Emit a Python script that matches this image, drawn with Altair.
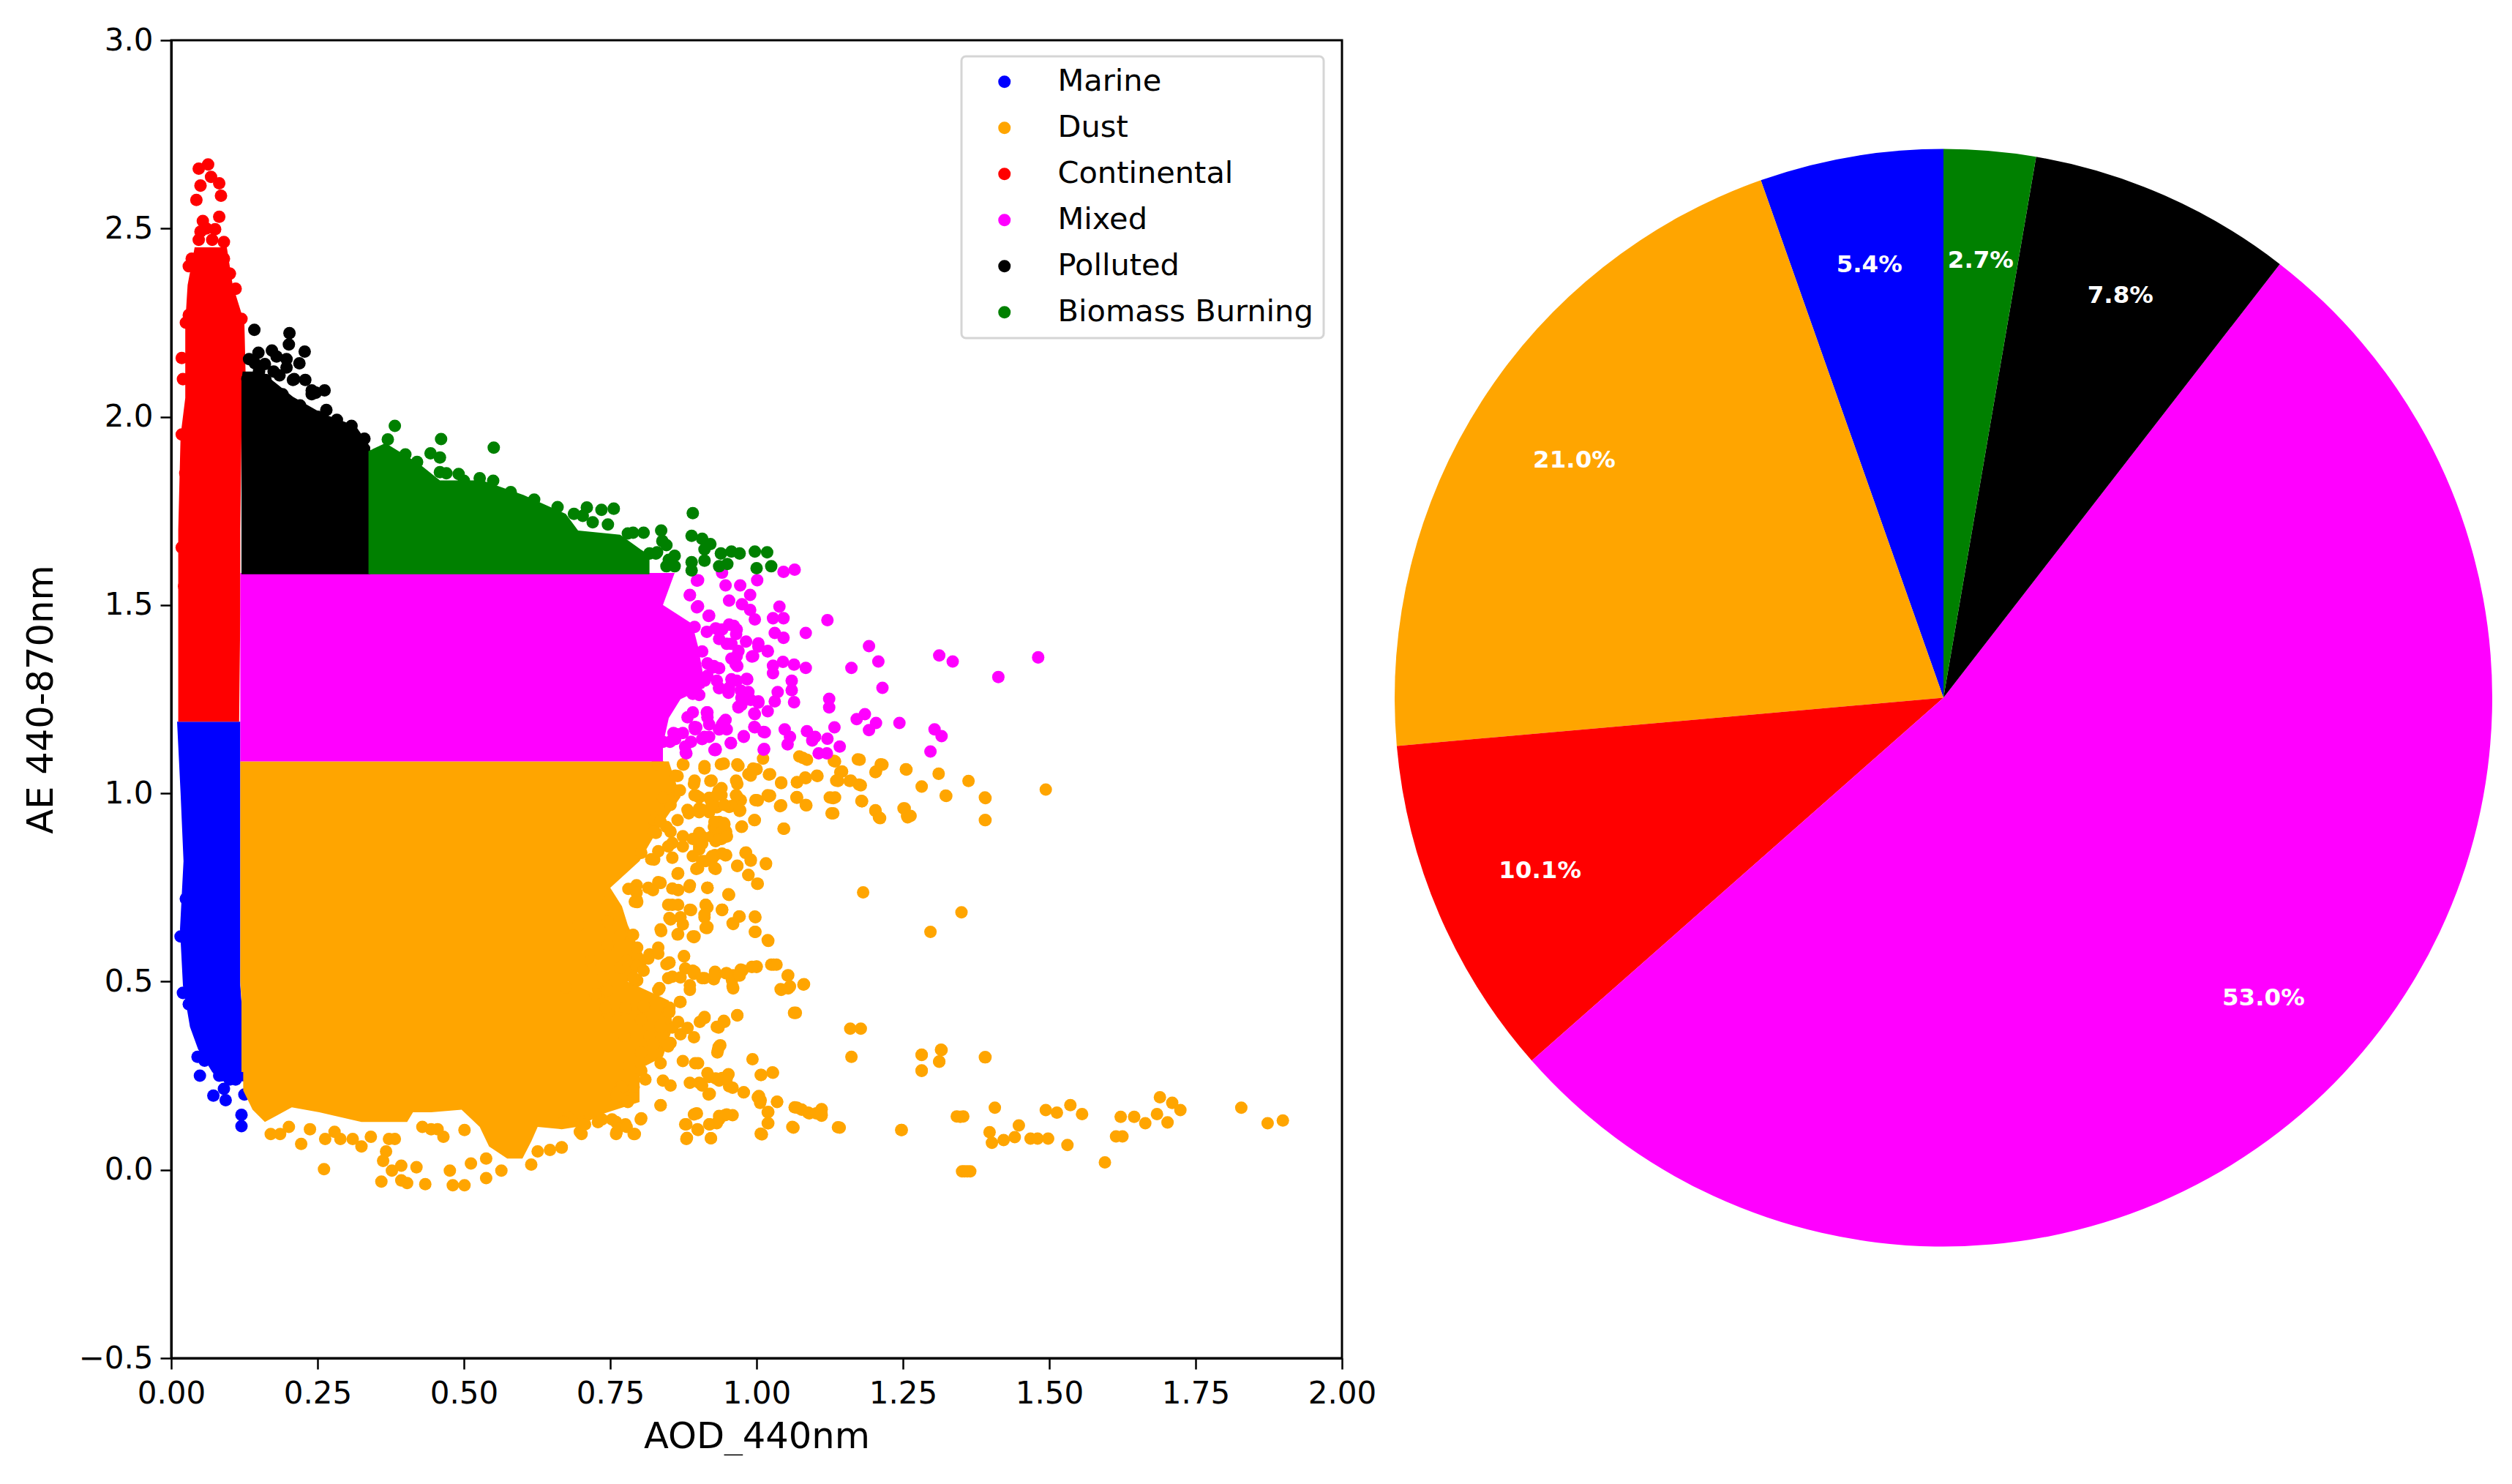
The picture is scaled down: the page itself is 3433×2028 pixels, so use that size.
import altair as alt
import pandas as pd

categories = ["Marine", "Dust", "Continental", "Mixed", "Polluted", "Biomass Burning"]
colors = ["#0000ff", "#ffa500", "#ff0000", "#ff00ff", "#000000", "#008000"]
pie_values = [5.4, 21.0, 10.1, 53.0, 7.8, 2.7]
pie_labels = ["5.4%", "21.0%", "10.1%", "53.0%", "7.8%", "2.7%"]

# dense cores: envelopes (y, left x, right x)
marine_core_y = [1.19, 1.0, 0.82, 0.64, 0.49, 0.38, 0.32, 0.26, 0.235]
marine_core_x1 = [0.010, 0.016, 0.021, 0.015, 0.020, 0.032, 0.046, 0.070, 0.085]
marine_core_x2 = [0.118, 0.118, 0.118, 0.118, 0.118, 0.123, 0.128, 0.130, 0.130]

dust_core_y = [1.085, 0.99, 0.90, 0.82, 0.749, 0.70, 0.65, 0.60, 0.55, 0.50, 0.45, 0.38, 0.30, 0.26]
dust_core_x1 = [0.118, 0.118, 0.118, 0.118, 0.118, 0.118, 0.118, 0.118, 0.118, 0.118, 0.120, 0.120, 0.120, 0.120]
dust_core_x2 = [0.850, 0.870, 0.830, 0.800, 0.750, 0.770, 0.780, 0.795, 0.815, 0.780, 0.850, 0.857, 0.840, 0.790]

dust_low_x = [0.123, 0.139, 0.160, 0.206, 0.253, 0.325, 0.362, 0.403, 0.413, 0.444, 0.496, 0.527, 0.543, 0.574, 0.600, 0.615, 0.626, 0.667, 0.693, 0.740, 0.800]
dust_low_y1 = [0.211, 0.160, 0.127, 0.166, 0.153, 0.127, 0.127, 0.127, 0.153, 0.153, 0.160, 0.114, 0.062, 0.030, 0.030, 0.075, 0.114, 0.108, 0.114, 0.150, 0.180]
dust_low_y2 = [0.40] * len(dust_low_x)

continental_core_y = [2.45, 2.35, 2.25, 2.05, 1.95, 1.70, 1.48, 1.19]
continental_core_x1 = [0.040, 0.028, 0.024, 0.024, 0.016, 0.012, 0.012, 0.012]
continental_core_x2 = [0.095, 0.105, 0.125, 0.128, 0.120, 0.118, 0.118, 0.116]

mixed_core_y = [1.585, 1.50, 1.45, 1.39, 1.33, 1.28, 1.25, 1.20, 1.13, 1.085]
mixed_core_x1 = [0.118, 0.118, 0.118, 0.118, 0.118, 0.118, 0.118, 0.118, 0.118, 0.118]
mixed_core_x2 = [0.860, 0.840, 0.890, 0.900, 0.907, 0.911, 0.870, 0.850, 0.840, 0.840]

polluted_core_y = [2.12, 2.098, 2.053, 2.009, 1.976, 1.92, 1.582]
polluted_core_x1 = [0.122, 0.120, 0.120, 0.120, 0.120, 0.120, 0.120]
polluted_core_x2 = [0.150, 0.172, 0.208, 0.258, 0.315, 0.340, 0.340]

biomass_core_x = [0.337, 0.366, 0.423, 0.459, 0.531, 0.602, 0.674, 0.695, 0.767, 0.817]
biomass_core_y2 = [1.909, 1.930, 1.876, 1.831, 1.831, 1.792, 1.742, 1.698, 1.687, 1.631]
biomass_core_y1 = [1.582, 1.582, 1.582, 1.582, 1.582, 1.582, 1.582, 1.582, 1.582, 1.582]

# individually readable points
marine_x = [0.049, 0.072, 0.093, 0.120, 0.120, 0.057, 0.082, 0.090, 0.045, 0.100, 0.125, 0.060, 0.030, 0.020, 0.016, 0.025, 0.110, 0.125]
marine_y = [0.25, 0.197, 0.185, 0.146, 0.116, 0.29, 0.25, 0.215, 0.30, 0.24, 0.20, 0.33, 0.44, 0.47, 0.62, 0.72, 0.24, 0.27]

dust_pairs_far = [
    (1.494, 1.010), (1.362, 1.033), (1.391, 0.987), (1.391, 0.929), (1.324, 0.993), (1.311, 1.052), (1.255, 1.064), (1.282, 1.018),
    (1.212, 1.077), (1.204, 1.058), (1.173, 1.090), (1.258, 0.936), (1.251, 0.960), (1.209, 0.936), (1.203, 0.955), (1.179, 0.980),
    (1.131, 0.987), (1.131, 0.947), (1.159, 1.033), (1.175, 1.023), (1.146, 1.058), (1.139, 1.033), (1.134, 1.085), (1.104, 1.046),
    (1.083, 1.042), (1.069, 1.029), (1.069, 0.990), (1.085, 0.968), (1.042, 0.968), (1.023, 0.994), (1.023, 1.051), (1.042, 1.029),
    (1.002, 0.981), (0.997, 0.929), (0.975, 0.912), (1.047, 0.906), (1.079, 1.094), (1.000, 1.064), (0.967, 1.077), (0.939, 1.077),
    (0.911, 1.072), (0.986, 1.051), (0.967, 1.025), (0.967, 0.990), (0.972, 0.955), (0.953, 0.964), (0.935, 1.007), (0.921, 1.033),
    (0.925, 0.981), (0.893, 1.025), (0.897, 0.994), (0.865, 1.046), (0.874, 1.077), (0.830, 1.077), (0.865, 1.007), (0.851, 0.981),
    (0.902, 0.960), (0.884, 0.947), (0.865, 0.929), (0.832, 0.938), (0.944, 0.921), (0.930, 0.912), (0.949, 0.886), (0.930, 0.873),
    (0.902, 0.895), (0.874, 0.886), (0.856, 0.868), (0.828, 0.895), (0.902, 0.851), (0.981, 0.842), (0.990, 0.821), (1.016, 0.812),
    (0.967, 0.808), (0.986, 0.783), (1.002, 0.760), (0.947, 0.835), (0.925, 0.829), (0.930, 0.799), (0.897, 0.799), (0.865, 0.786),
    (0.856, 0.829), (0.820, 0.825), (0.916, 0.749), (0.952, 0.731), (0.885, 0.751), (0.856, 0.747), (0.832, 0.764), (0.795, 0.756),
    (0.792, 0.712), (0.823, 0.743), (0.856, 0.704), (0.888, 0.690), (0.913, 0.704), (0.941, 0.690), (0.971, 0.673), (0.998, 0.671),
    (0.960, 0.653), (1.020, 0.608), (0.913, 0.643), (0.893, 0.618), (0.865, 0.625), (0.837, 0.634), (0.851, 0.669), (0.874, 0.652),
    (0.998, 0.632), (1.182, 0.737), (1.350, 0.684), (1.297, 0.632), (0.851, 0.550), (0.876, 0.567), (0.893, 0.521), (0.930, 0.517),
    (0.960, 0.517), (0.976, 0.530), (1.000, 0.539), (1.029, 0.545), (1.054, 0.517), (1.081, 0.493), (1.054, 0.482), (1.042, 0.478),
    (0.960, 0.482), (0.886, 0.478), (0.832, 0.478), (0.856, 0.513), (0.791, 0.508), (0.958, 0.504), (0.740, 0.474), (0.869, 0.446),
    (0.849, 0.421), (0.967, 0.410), (1.067, 0.417), (0.935, 0.378), (0.856, 0.378), (0.843, 0.400), (1.160, 0.375), (0.935, 0.326),
    (0.893, 0.352), (1.282, 0.306), (1.315, 0.319), (1.312, 0.287), (1.391, 0.299), (1.282, 0.264), (1.028, 0.258), (1.008, 0.252),
    (0.951, 0.252), (0.930, 0.243), (0.953, 0.222), (0.978, 0.206), (1.004, 0.196), (1.006, 0.178), (1.035, 0.180), (1.069, 0.165),
    (1.088, 0.152), (1.111, 0.161), (1.111, 0.144), (1.020, 0.154), (1.020, 0.124), (1.063, 0.112), (1.009, 0.094), (1.142, 0.112),
    (1.247, 0.106), (1.348, 0.141), (1.407, 0.165), (1.494, 0.159), (1.513, 0.152), (1.536, 0.172), (1.556, 0.148), (1.622, 0.141),
    (1.645, 0.141), (1.664, 0.124), (1.684, 0.148), (1.689, 0.193), (1.710, 0.178), (1.724, 0.159), (1.702, 0.126), (1.828, 0.165),
    (1.873, 0.124), (1.899, 0.131), (1.398, 0.100), (1.448, 0.118), (1.441, 0.087), (1.422, 0.079), (1.402, 0.072), (1.468, 0.083),
    (1.480, 0.083), (1.498, 0.083), (1.531, 0.066), (1.614, 0.089), (1.625, 0.089), (1.595, 0.020), (1.355, -0.004), (1.365, -0.004),
]
dust_x = [p[0] for p in dust_pairs_far]
dust_y = [p[1] for p in dust_pairs_far]

dust_x2 = [0.186, 0.222, 0.170, 0.237, 0.201, 0.263, 0.289, 0.325, 0.310, 0.279, 0.341, 0.372, 0.367, 0.382, 0.261, 0.359, 0.377, 0.393,
           0.403, 0.419, 0.393, 0.362, 0.434, 0.476, 0.481, 0.501, 0.512, 0.538, 0.564, 0.538, 0.501, 0.615, 0.647, 0.667, 0.626, 0.444,
           0.465, 0.429, 0.455, 0.698, 0.760, 0.792, 0.802, 0.760, 0.729, 0.776, 0.703, 0.760, 0.768, 0.836, 0.880, 0.880, 0.893]
dust_y2 = [0.095, 0.069, 0.095, 0.108, 0.114, 0.082, 0.082, 0.062, 0.082, 0.101, 0.088, 0.082, 0.049, 0.082, 0.002, -0.031, -0.002, -0.028,
           -0.035, 0.007, 0.011, 0.024, -0.038, -0.002, -0.041, -0.041, 0.017, -0.022, -0.002, 0.030, 0.106, 0.014, 0.053, 0.060, 0.049, 0.108,
           0.088, 0.114, 0.108, 0.101, 0.095, 0.095, 0.134, 0.127, 0.127, 0.121, 0.127, 0.202, 0.221, 0.171, 0.121, 0.082, 0.147]

dust_x3 = [0.902, 0.923, 0.940, 0.932, 0.965, 0.973, 0.957, 0.971, 1.000, 1.021, 1.040, 1.068, 1.084, 1.125, 1.134, 1.128, 1.180, 1.203, 1.211,
           1.253, 1.257, 1.263, 1.323, 1.390, 1.390, 0.902, 0.919, 0.996, 0.974, 1.046, 0.936, 0.948, 0.940, 0.923, 0.907, 0.927, 0.902, 0.982,
           0.990, 0.948, 0.929, 0.913, 0.929, 0.900, 0.967, 1.016, 0.986, 1.001, 0.916, 0.952, 0.913, 0.941, 0.911, 0.970, 0.959, 0.997, 0.997,
           0.915, 1.019, 0.894, 1.000, 0.992, 0.973, 0.971, 0.948, 0.929, 0.927, 0.911, 0.894, 0.959, 1.025, 1.034, 1.053, 1.057, 1.041, 1.080,
           1.064, 0.967, 0.944, 0.911]
dust_y3 = [0.989, 0.976, 0.995, 0.963, 0.995, 0.982, 0.966, 0.953, 0.982, 0.992, 0.966, 0.989, 0.969, 0.989, 0.989, 0.947, 0.979, 0.953, 0.934,
           0.960, 0.940, 0.940, 0.994, 0.989, 0.929, 0.950, 0.950, 0.929, 0.911, 0.906, 0.924, 0.898, 0.879, 0.885, 0.885, 0.911, 0.859, 0.843,
           0.824, 0.836, 0.836, 0.820, 0.801, 0.801, 0.807, 0.814, 0.783, 0.760, 0.749, 0.732, 0.704, 0.691, 0.671, 0.673, 0.655, 0.673, 0.632,
           0.642, 0.610, 0.620, 0.540, 0.539, 0.532, 0.516, 0.522, 0.526, 0.506, 0.509, 0.526, 0.487, 0.545, 0.545, 0.516, 0.487, 0.480, 0.492,
           0.417, 0.411, 0.396, 0.406]

dust_x4 = [1.178, 1.162, 1.282, 1.282, 1.316, 1.312, 1.390, 0.936, 0.933, 0.993, 1.007, 1.027, 0.952, 0.919, 0.936, 0.959, 0.978, 0.900, 0.902,
           0.918, 1.002, 1.007, 1.035, 1.019, 1.019, 1.007, 1.065, 1.077, 1.090, 1.102, 1.111, 1.111, 1.061, 1.139, 1.248, 1.342, 1.353, 1.351,
           1.360, 0.898, 0.936, 0.946, 0.959, 0.919, 0.932, 0.900, 0.922]
dust_y4 = [0.375, 0.300, 0.305, 0.263, 0.318, 0.288, 0.299, 0.328, 0.312, 0.294, 0.252, 0.259, 0.254, 0.247, 0.237, 0.218, 0.206, 0.283, 0.231,
           0.200, 0.193, 0.185, 0.181, 0.153, 0.124, 0.096, 0.166, 0.160, 0.150, 0.150, 0.160, 0.147, 0.114, 0.113, 0.106, 0.142, 0.142, -0.004,
           -0.004, 0.150, 0.143, 0.145, 0.145, 0.121, 0.124, 0.106, 0.084]

dust_x5 = [0.832, 0.875, 0.911, 0.944, 0.969, 0.994, 1.011, 0.990, 1.021, 1.042, 1.073, 1.086, 1.069, 1.084, 1.103, 1.132, 1.143, 1.136, 1.161,
           1.178, 1.176, 1.203, 1.215, 1.256, 1.128, 1.180, 1.069, 1.019, 0.998, 0.965, 0.940, 0.923, 0.965, 0.919, 0.894, 0.861, 0.894, 0.869,
           0.781, 0.796, 0.746, 0.746, 0.696, 0.767, 0.789, 0.796, 0.746, 0.817, 0.832, 0.717, 0.767, 0.738, 0.796, 0.846, 0.724, 0.746, 0.674,
           0.774, 0.807, 0.746, 0.803, 0.817, 0.774, 0.853, 0.803, 0.825, 0.846, 0.903, 0.939, 0.825, 0.803, 0.790, 0.810, 0.780]
dust_y5 = [1.076, 1.076, 1.066, 1.079, 1.073, 1.066, 1.092, 1.047, 1.050, 1.027, 1.098, 1.089, 1.030, 1.040, 1.047, 1.086, 1.056, 1.034, 1.034,
           1.021, 1.089, 1.056, 1.076, 1.063, 0.988, 0.979, 0.988, 0.995, 0.982, 1.034, 1.014, 1.034, 0.995, 0.988, 1.034, 1.047, 0.995, 1.008,
           0.746, 0.711, 0.711, 0.659, 0.650, 0.624, 0.624, 0.590, 0.598, 0.572, 0.590, 0.555, 0.537, 0.511, 0.503, 0.546, 0.468, 0.477, 0.485,
           0.424, 0.433, 0.416, 0.398, 0.355, 0.355, 0.337, 0.311, 0.929, 0.911, 0.868, 0.894, 0.824, 0.842, 0.220, 0.240, 0.180]

dust_pairs_near = [
    (0.836, 0.924), (0.853, 0.898), (0.824, 0.898), (0.832, 0.846), (0.849, 0.859), (0.874, 0.859), (0.891, 0.879), (0.907, 0.866),
    (0.891, 0.833), (0.907, 0.820), (0.928, 0.801), (0.924, 0.833), (0.941, 0.840), (0.936, 0.879), (0.949, 0.885), (0.928, 0.924),
    (0.945, 0.918), (0.853, 0.969), (0.882, 0.956), (0.907, 0.956), (0.924, 0.969), (0.945, 0.969), (0.895, 0.995), (0.932, 0.995),
    (0.840, 0.989), (0.866, 0.788), (0.795, 0.736), (0.795, 0.717), (0.815, 0.749), (0.836, 0.762), (0.866, 0.743), (0.886, 0.756),
    (0.916, 0.749), (0.953, 0.730), (0.849, 0.704), (0.866, 0.704), (0.916, 0.697), (0.941, 0.691), (0.886, 0.691), (0.870, 0.671),
    (0.853, 0.665), (0.836, 0.639), (0.866, 0.626), (0.891, 0.620), (0.916, 0.645), (0.911, 0.678), (0.832, 0.574), (0.815, 0.561),
    (0.795, 0.542), (0.778, 0.555), (0.790, 0.509), (0.807, 0.529), (0.851, 0.551), (0.876, 0.568), (0.878, 0.535), (0.891, 0.529),
    (0.907, 0.509), (0.928, 0.516), (0.949, 0.522), (0.886, 0.490), (0.834, 0.483), (0.849, 0.509), (0.870, 0.511), (0.870, 0.446),
    (0.807, 0.435), (0.776, 0.431), (0.742, 0.431), (0.851, 0.431), (0.836, 0.283), (0.874, 0.289), (0.895, 0.283), (0.840, 0.237),
    (0.853, 0.224), (0.886, 0.231), (0.907, 0.224), (0.920, 0.202), (0.941, 0.244), (0.916, 0.257), (0.949, 0.244), (0.803, 0.263),
    (0.782, 0.276), (0.870, 0.360), (0.882, 0.377), (0.903, 0.393), (0.911, 0.403), (0.866, 0.393), (0.851, 0.419), (0.932, 0.380),
    (0.945, 0.393), (0.934, 0.318), (0.938, 0.331), (0.849, 0.328), (0.824, 0.334), (0.836, 0.380), (0.770, 0.218), (0.761, 0.195),
    (0.836, 0.172), (0.803, 0.137), (0.790, 0.095), (0.761, 0.101), (0.778, 0.114), (0.736, 0.134), (0.701, 0.095), (0.707, 0.121),
    (0.753, 0.134), (0.678, 0.140), (0.670, 0.127), (0.667, 0.059), (0.896, 0.149), (0.878, 0.121), (0.881, 0.085), (0.899, 0.108),
    (0.922, 0.084), (0.920, 0.121), (0.936, 0.134), (0.949, 0.147),
]
dust_x6 = [p[0] for p in dust_pairs_near]
dust_y6 = [p[1] for p in dust_pairs_near]

continental_x = [0.063, 0.047, 0.082, 0.068, 0.043, 0.085, 0.050, 0.082, 0.054, 0.047, 0.075, 0.090, 0.050, 0.018, 0.018, 0.018, 0.100, 0.030,
                 0.120, 0.030, 0.025, 0.020, 0.110, 0.024, 0.022, 0.050, 0.070, 0.090, 0.035, 0.060, 0.100]
continental_y = [2.670, 2.659, 2.620, 2.637, 2.576, 2.587, 2.614, 2.531, 2.520, 2.470, 2.498, 2.464, 2.492, 2.156, 1.953, 1.653, 2.380, 2.270,
                 2.260, 2.400, 2.250, 2.100, 2.340, 1.850, 1.550, 2.430, 2.470, 2.420, 2.420, 2.500, 2.380]

mixed_x = [1.481, 1.413, 1.312, 1.335, 1.215, 1.192, 1.208, 1.162, 1.121, 1.084, 1.065, 1.046, 1.001, 1.039, 1.028, 1.046, 1.031, 1.046, 1.019, 1.003,
           0.992, 0.969, 0.953, 0.930, 0.997, 0.989, 0.975, 0.989, 0.972, 0.953, 0.947, 0.941, 0.900, 0.886, 0.900, 0.919, 1.084, 1.064, 1.045, 1.028,
           1.028, 1.060, 1.060, 1.064, 1.036, 1.031, 1.019, 1.003, 0.997, 0.969, 0.983, 0.958, 0.925, 0.964, 0.936, 0.986, 1.124, 1.124, 1.133, 1.171,
           1.185, 1.204, 1.192, 1.244, 1.304, 1.316, 1.297, 1.142, 1.121, 1.120, 1.106, 1.095, 1.086, 1.100, 1.053, 1.057, 1.048, 1.013, 1.014, 0.997,
           0.978, 0.956, 0.930, 0.947, 0.936, 0.916, 0.919, 0.897, 0.874, 0.880, 0.833, 0.858, 0.891, 0.891, 0.824]
mixed_y = [1.361, 1.309, 1.366, 1.350, 1.280, 1.391, 1.350, 1.333, 1.460, 1.426, 1.594, 1.588, 1.566, 1.496, 1.465, 1.465, 1.426, 1.413, 1.378, 1.398,
           1.363, 1.378, 1.448, 1.438, 1.462, 1.487, 1.502, 1.527, 1.552, 1.512, 1.552, 1.586, 1.566, 1.527, 1.497, 1.472, 1.333, 1.342, 1.349, 1.339,
           1.319, 1.299, 1.274, 1.242, 1.269, 1.244, 1.218, 1.244, 1.210, 1.230, 1.304, 1.299, 1.334, 1.344, 1.279, 1.269, 1.251, 1.228, 1.175, 1.197,
           1.210, 1.187, 1.168, 1.187, 1.170, 1.152, 1.111, 1.124, 1.145, 1.106, 1.106, 1.140, 1.165, 1.150, 1.130, 1.150, 1.170, 1.118, 1.162, 1.175,
           1.152, 1.133, 1.118, 1.195, 1.170, 1.215, 1.150, 1.175, 1.160, 1.106, 1.180, 1.160, 1.215, 1.264, 1.121]
mixed_x2 = [0.898, 0.886, 0.898, 0.918, 0.894, 0.915, 0.936, 0.961, 0.965, 0.936, 0.957, 0.982, 1.003, 1.019, 0.994, 0.957, 0.967, 0.927, 0.907,
            0.984, 0.957, 0.936, 0.952, 0.973, 0.990, 0.969, 0.996, 1.003, 0.911, 0.902, 0.894, 0.915, 0.919, 0.894, 0.882, 0.911, 0.888, 0.863,
            0.852, 0.832, 0.823, 0.807, 0.879, 0.930, 0.944, 0.936, 0.956, 0.978, 0.996, 1.012, 1.012,
            0.949, 0.966, 0.941, 0.966, 0.953, 0.966, 0.932, 0.974, 0.941, 0.916, 0.895, 0.907, 0.878, 0.861, 0.828, 0.840, 0.807, 0.928, 0.949, 0.974, 0.899, 0.916, 0.936, 0.916]
mixed_y2 = [1.565, 1.526, 1.494, 1.471, 1.442, 1.429, 1.435, 1.445, 1.423, 1.410, 1.397, 1.403, 1.390, 1.377, 1.364, 1.358, 1.338, 1.338, 1.377,
            1.303, 1.303, 1.280, 1.267, 1.273, 1.248, 1.228, 1.212, 1.241, 1.299, 1.261, 1.319, 1.215, 1.183, 1.176, 1.202, 1.150, 1.137, 1.157,
            1.137, 1.183, 1.124, 1.108, 1.108, 1.115, 1.189, 1.170, 1.134, 1.150, 1.176, 1.163, 1.116,
            1.397, 1.364, 1.435, 1.435, 1.280, 1.299, 1.299, 1.254, 1.183, 1.202, 1.170, 1.144, 1.124, 1.144, 1.176, 1.137, 1.111, 1.115, 1.170, 1.235, 1.299, 1.345, 1.332, 1.312]

polluted_x = [0.142, 0.202, 0.201, 0.228, 0.219, 0.149, 0.172, 0.197, 0.197, 0.262, 0.265, 0.247, 0.133, 0.143, 0.229, 0.208, 0.136, 0.161, 0.283,
              0.308, 0.330, 0.185, 0.240, 0.150, 0.175, 0.210, 0.240, 0.180, 0.160, 0.130, 0.160, 0.190, 0.220, 0.250, 0.280, 0.310]
polluted_y = [2.231, 2.222, 2.192, 2.173, 2.142, 2.170, 2.176, 2.153, 2.131, 2.070, 2.018, 2.064, 2.153, 2.142, 2.098, 2.098, 2.098, 2.098, 1.992,
              1.976, 1.942, 2.110, 2.070, 2.120, 2.120, 2.100, 2.060, 2.160, 2.140, 2.100, 2.080, 2.060, 2.030, 2.000, 1.970, 1.950]

biomass_x = [0.382, 0.461, 0.551, 0.443, 0.459, 0.491, 0.459, 0.527, 0.710, 0.703, 0.735, 0.756, 0.891, 0.837, 0.889, 0.907, 0.921, 0.911, 0.846, 0.860,
             0.889, 0.911, 0.889, 0.846, 0.860, 0.939, 0.957, 0.936, 0.971, 0.997, 1.018, 1.000, 1.025, 0.789, 0.807, 0.817, 0.746, 0.688, 0.828, 0.839, 0.950,
             0.370, 0.400, 0.420, 0.470, 0.500, 0.550, 0.580, 0.620, 0.660, 0.720, 0.780, 0.830, 0.800, 0.850]
biomass_y = [1.976, 1.941, 1.918, 1.903, 1.892, 1.848, 1.853, 1.837, 1.759, 1.737, 1.753, 1.756, 1.744, 1.698, 1.684, 1.676, 1.662, 1.648, 1.659, 1.631,
             1.614, 1.618, 1.592, 1.603, 1.603, 1.637, 1.642, 1.603, 1.637, 1.642, 1.640, 1.598, 1.603, 1.692, 1.692, 1.637, 1.714, 1.742, 1.637, 1.670, 1.609,
             1.940, 1.900, 1.880, 1.850, 1.830, 1.830, 1.800, 1.780, 1.760, 1.720, 1.690, 1.640, 1.630, 1.620]

x_scale = alt.Scale(domain=[0, 2], nice=False, zero=False)
y_scale = alt.Scale(domain=[-0.5, 3], nice=False, zero=False)
color_scale = alt.Scale(domain=categories, range=colors)
x_axis = alt.Axis(title="AOD_440nm", values=[0, 0.25, 0.5, 0.75, 1, 1.25, 1.5, 1.75, 2], format=".2f", grid=False,
                  labelFontSize=42, titleFontSize=49.5, tickSize=15, tickWidth=2.5, labelPadding=13, titlePadding=14,
                  tickColor="black", domainColor="black", domainWidth=3, labelColor="black", titleColor="black",
                  labelFont="DejaVu Sans", titleFont="DejaVu Sans", titleFontWeight="normal", labelFlush=False)
y_axis = alt.Axis(title="AE 440-870nm", values=[-0.5, 0, 0.5, 1, 1.5, 2, 2.5, 3], format=".1f", grid=False,
                  labelFontSize=42, titleFontSize=49.5, tickSize=15, tickWidth=2.5, labelPadding=10, titlePadding=26,
                  tickColor="black", domainColor="black", domainWidth=3, labelColor="black", titleColor="black",
                  labelFont="DejaVu Sans", titleFont="DejaVu Sans", titleFontWeight="normal", labelFlush=False)
legend = alt.Legend(title=None, orient="none", legendX=1080, legendY=22, labelFontSize=41.5, labelFont="DejaVu Sans",
                    labelColor="black", symbolSize=290, symbolType="circle", symbolStrokeWidth=0, fillColor="white",
                    strokeColor="#d5d5d5", cornerRadius=6, padding=14, rowPadding=20, labelOffset=52,
                    symbolOffset=24, labelLimit=600)


def horiz_core(ys, x1s, x2s, color):
    data = pd.DataFrame({"y": ys, "x": x1s, "x2": x2s})
    return alt.Chart(data).mark_area(orient="horizontal", color=color).encode(
        y=alt.Y("y:Q", scale=y_scale, axis=y_axis),
        x=alt.X("x:Q", scale=x_scale, axis=x_axis, stack=None),
        x2="x2:Q",
    )


def vert_core(xs, y1s, y2s, color):
    data = pd.DataFrame({"x": xs, "y": y1s, "y2": y2s})
    return alt.Chart(data).mark_area(color=color).encode(
        x=alt.X("x:Q", scale=x_scale, axis=x_axis),
        y=alt.Y("y:Q", scale=y_scale, axis=y_axis, stack=None),
        y2="y2:Q",
    )


def points(xs, ys, name):
    data = pd.DataFrame({"x": xs, "y": ys, "type": [name] * len(xs)})
    return alt.Chart(data).mark_circle(size=290, opacity=1).encode(
        x=alt.X("x:Q", scale=x_scale, axis=x_axis),
        y=alt.Y("y:Q", scale=y_scale, axis=y_axis),
        color=alt.Color("type:N", scale=color_scale, legend=legend, sort=categories),
    )


scatter = alt.layer(
    horiz_core(marine_core_y, marine_core_x1, marine_core_x2, colors[0]),
    points(marine_x, marine_y, categories[0]),
    horiz_core(dust_core_y, dust_core_x1, dust_core_x2, colors[1]),
    vert_core(dust_low_x, dust_low_y1, dust_low_y2, colors[1]),
    points(dust_x + dust_x2 + dust_x3 + dust_x4 + dust_x5 + dust_x6,
           dust_y + dust_y2 + dust_y3 + dust_y4 + dust_y5 + dust_y6, categories[1]),
    horiz_core(continental_core_y, continental_core_x1, continental_core_x2, colors[2]),
    points(continental_x, continental_y, categories[2]),
    horiz_core(mixed_core_y, mixed_core_x1, mixed_core_x2, colors[3]),
    points(mixed_x + mixed_x2, mixed_y + mixed_y2, categories[3]),
    horiz_core(polluted_core_y, polluted_core_x1, polluted_core_x2, colors[4]),
    points(polluted_x, polluted_y, categories[4]),
    vert_core(biomass_core_x, biomass_core_y1, biomass_core_y2, colors[5]),
    points(biomass_x, biomass_y, categories[5]),
).properties(width=1600, height=1801)

# matplotlib runs counter-clockwise from 12 o'clock; Vega runs clockwise, so the order is reversed
pie_data = pd.DataFrame({
    "type": categories,
    "value": pie_values,
    "label": pie_labels,
    "order": [6, 5, 4, 3, 2, 1],
})
pie_theta = alt.Theta("value:Q", stack=True, scale=alt.Scale(domain=[0, 100], range=[0, 6.283185307]))
pie_color = alt.Color("type:N", scale=color_scale, legend=None)
pie_base = alt.Chart(pie_data).encode(theta=pie_theta, order=alt.Order("order:Q"))
pie = alt.layer(
    pie_base.mark_arc(outerRadius=750, innerRadius=0).encode(color=pie_color),
    pie_base.mark_text(radius=600, color="white", fontSize=32.5, fontWeight="bold", font="DejaVu Sans").encode(text="label:N"),
).properties(width=1498, height=1797, view=alt.ViewConfig(stroke=None))

chart = alt.hconcat(scatter, pie, spacing=23).resolve_scale(color="independent").configure_view(
    stroke="black", strokeWidth=3
).configure_legend(strokeWidth=3).properties(padding={"left": 21, "top": 24, "right": 0, "bottom": 0}, background="white")

chart.save("out.html", embed_options={"renderer": "svg", "actions": False})
